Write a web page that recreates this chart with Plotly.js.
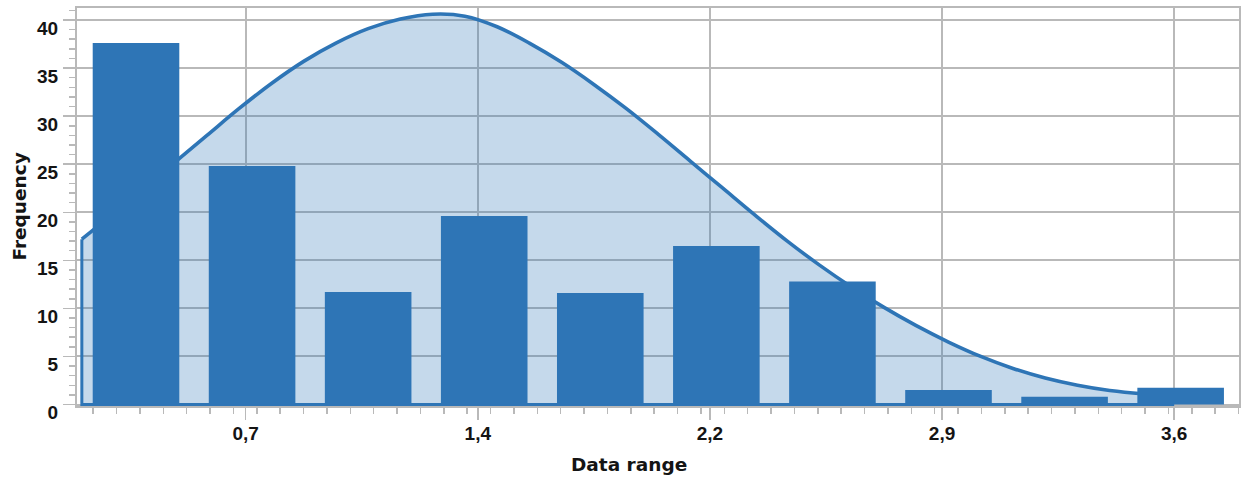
<!DOCTYPE html>
<html>
<head>
<meta charset="utf-8">
<script src="https://cdn.plot.ly/plotly-3.0.1.min.js"></script>
<style>
  html, body { margin: 0; padding: 0; background: #ffffff; }
  #chart { width: 1242px; height: 477px; }
</style>
</head>
<body>
<div id="chart"></div>
<script>
// ---- Data ----
const binCenters  = [0.38, 0.74, 1.10, 1.46, 1.82, 2.18, 2.54, 2.90, 3.26, 3.62];
const frequencies = [37.6, 24.8, 11.7, 19.6, 11.6, 16.5, 12.8, 1.5, 0.8, 1.75];

// Fitted distribution curve
const curveX = [0.212, 0.3, 0.4, 0.5, 0.6, 0.7, 0.8, 0.9, 1.0, 1.1,
                1.2, 1.3, 1.4, 1.5, 1.6, 1.7, 1.8, 1.9, 2.0, 2.1,
                2.2, 2.3, 2.4, 2.5, 2.6, 2.7, 2.8, 2.9, 3.0, 3.1,
                3.2, 3.3, 3.4, 3.5, 3.6];
const curveY = [17.2, 19.6, 22.4, 25.2, 28.0, 30.8, 33.4, 35.7, 37.6, 39.1,
                40.1, 40.6, 40.4, 39.3, 37.6, 35.6, 33.3, 30.8, 28.1, 25.3,
                22.5, 19.7, 17.0, 14.5, 12.2, 10.1, 8.2, 6.5, 5.0, 3.75,
                2.75, 2.0, 1.45, 1.12, 0.95];

const xTickVals = [0.72, 1.44, 2.16, 2.88, 3.6];
const xTickText = ['0,7', '1,4', '2,2', '2,9', '3,6'];
const yTickVals = [0, 5, 10, 15, 20, 25, 30, 35, 40];
const yTickText = ['0', '5', '10', '15', '20', '25', '30', '35', '40'];

const xTitle = 'Data range';
const yTitle = 'Frequency';

// ---- Styles ----
const blue = '#2E75B6';
const gridGrey = '#b9b9b9';
const tickFont = { family: 'Liberation Sans, Arial, sans-serif', size: 19, color: '#141414', weight: 'bold' };
const titleFont = { family: 'DejaVu Sans, sans-serif', size: 18.5, color: '#141414', weight: 'bold' };
const xRange = [0.197, 3.801];
const yRange = [-0.156, 41.25];

const n = curveX.length;
const traces = [
  {
    type: 'scatter', mode: 'lines',
    x: curveX, y: curveY,
    line: { color: blue, width: 3.6, shape: 'spline', smoothing: 1 },
    fill: 'tozeroy', fillcolor: 'rgba(46,117,182,0.28)',
    hoverinfo: 'skip', showlegend: false,
    xaxis: 'x', yaxis: 'y'
  },
  {
    type: 'scatter', mode: 'lines',
    x: [curveX[n - 1], curveX[0], curveX[0]],
    y: [0, 0, curveY[0]],
    line: { color: blue, width: 3 },
    hoverinfo: 'skip', showlegend: false,
    xaxis: 'x', yaxis: 'y'
  },
  {
    type: 'bar',
    x: binCenters, y: frequencies,
    marker: { color: blue, line: { width: 0 } },
    showlegend: false,
    xaxis: 'x2', yaxis: 'y2'
  }
];

const layout = {
  width: 1242, height: 477,
  margin: { l: 77, r: 3, t: 8, b: 71, pad: 0 },
  paper_bgcolor: '#ffffff', plot_bgcolor: '#ffffff',
  bargap: 0.254,
  showlegend: false,
  xaxis: {
    range: xRange, fixedrange: true,
    tickmode: 'array', tickvals: xTickVals, ticktext: xTickText,
    tickfont: tickFont,
    ticks: 'outside', ticklen: 12, tickwidth: 1.5, tickcolor: gridGrey,
    ticklabelstandoff: -3,
    showgrid: true, gridcolor: gridGrey, gridwidth: 2,
    minor: { tick0: 0.247, dtick: 0.0725, ticks: 'outside', ticklen: 6, tickwidth: 1.5, tickcolor: gridGrey, showgrid: false },
    showline: true, linecolor: gridGrey, linewidth: 2, mirror: true,
    zeroline: false
  },
  yaxis: {
    range: yRange, fixedrange: true,
    tickmode: 'array', tickvals: yTickVals, ticktext: yTickText,
    tickfont: tickFont,
    ticks: 'outside', ticklen: 12, tickwidth: 1.5, tickcolor: gridGrey,
    ticklabelshift: 8,
    ticklabelstandoff: 1,
    showgrid: true, gridcolor: gridGrey, gridwidth: 2,
    minor: { dtick: 1, ticks: 'outside', ticklen: 6, tickwidth: 1.5, tickcolor: gridGrey, showgrid: false },
    showline: true, linecolor: gridGrey, linewidth: 2, mirror: true,
    zeroline: false
  },
  xaxis2: { overlaying: 'x', range: xRange, visible: false, fixedrange: true },
  yaxis2: { overlaying: 'y', range: yRange, visible: false, fixedrange: true },
  annotations: [
    {
      text: xTitle, xref: 'paper', yref: 'paper',
      x: 0.4753, y: -0.146, xanchor: 'center', yanchor: 'middle',
      showarrow: false, font: titleFont
    },
    {
      text: yTitle, xref: 'paper', yref: 'paper',
      x: -0.0503, y: 0.5, xanchor: 'center', yanchor: 'middle',
      textangle: -90, showarrow: false, font: titleFont
    }
  ]
};

Plotly.newPlot('chart', traces, layout, { staticPlot: true, displayModeBar: false });
</script>
</body>
</html>
